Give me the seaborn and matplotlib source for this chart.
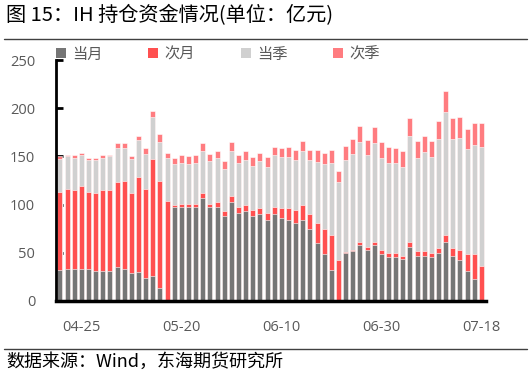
import numpy as np
import pandas as pd
import matplotlib
matplotlib.use("Agg")
import matplotlib.pyplot as plt
from matplotlib.patches import Patch
from matplotlib.lines import Line2D
import seaborn as sns

# ---------------- data ----------------
dates = [
    "04-22", "04-23", "04-24", "04-25", "04-28", "04-29", "04-30",
    "05-06", "05-07", "05-08", "05-09", "05-12", "05-13", "05-14", "05-15", "05-16",
    "05-19", "05-20", "05-21", "05-22", "05-23", "05-26", "05-27", "05-28", "05-29", "05-30",
    "06-03", "06-04", "06-05", "06-06", "06-09", "06-10", "06-11", "06-12", "06-13",
    "06-16", "06-17", "06-18", "06-19", "06-20", "06-23", "06-24", "06-25", "06-26", "06-27",
    "06-30", "07-01", "07-02", "07-03", "07-04", "07-07", "07-08", "07-09", "07-10", "07-11",
    "07-14", "07-15", "07-16", "07-17", "07-18",
]
dangyue = [32, 33, 33, 33, 33, 31.5, 31.5, 31.5, 35, 33, 29, 30, 24, 25.6, 13, 0,
           98, 98, 98, 98, 107, 98, 98, 88.5, 102.7, 91.6, 93, 88.5, 90.5, 84,
           90, 86, 84, 81, 84, 75, 60, 49, 32, 0,
           49.3, 51.7, 57.7, 53.3, 57.7, 49, 45.3, 45.3, 44, 56.4,
           47, 47, 45.3, 49.8, 60.8, 47, 42.5, 31.5, 22.5, 0]
ciyue = [81, 83, 82, 86, 80, 80.5, 83.5, 83.5, 88, 91.5, 83, 99, 92.5, 122, 111.5, 104,
         1.6, 3, 3, 3, 5, 3, 4.7, 4.5, 6.3, 6.4, 6.6, 6.3, 5.5, 7.6,
         8, 10.5, 12.5, 13.4, 15.6, 15, 20.6, 25.7, 36.5, 42.5,
         1.2, 1.3, 3.3, 2.9, 3.5, 4, 4.5, 4.5, 2.7, 4.4,
         4.5, 4.5, 4.5, 4.8, 7.7, 7.6, 10.5, 17.3, 26.3, 36.3]
dangji = [34, 34, 33, 32, 33, 34, 33, 35, 36, 34.5, 35, 38, 36.5, 43.6, 40.5, 44,
          42.4, 42.5, 41, 42.5, 44, 44, 45.3, 44, 47, 45.5, 47, 45.6, 49, 47.1,
          53, 52.5, 52.5, 51.9, 56, 56.3, 63.9, 67.1, 74.5, 80.5,
          96, 99.6, 104, 95.1, 102.3, 95, 93.4, 93.4, 92, 110.4,
          96.5, 102.7, 99.6, 113.4, 127.5, 113.4, 116.4, 108.5, 112.7, 123.7]
ciji = [3, 1.5, 3, 3, 2.5, 2.5, 3, 1.5, 5, 5, 3, 4.5, 6, 6.4, 8, 6,
        6, 7.5, 8, 7.5, 7.6, 8, 7.6, 8, 9, 7.5, 9, 9.3, 9, 10.8,
        9, 9.4, 11, 10.3, 10.4, 10.3, 12.1, 12.1, 13.6, 12,
        13.8, 15.2, 16.7, 15.2, 16.5, 17, 16.8, 15.2, 16.9, 18.3,
        18.3, 16.6, 16.9, 18.4, 21.5, 21.5, 21.6, 21.5, 23.1, 24.6]
series_names = ["当月", "次月", "当季", "次季"]
tick_labels = ["04-25", "05-20", "06-10", "06-30", "07-18"]

colors = ["#767676", "#FF5050", "#D0D0D0", "#FF7C80"]

df = pd.DataFrame({"date": dates, "当月": dangyue, "次月": ciyue,
                   "当季": dangji, "次季": ciji})
cum = df[series_names].cumsum(axis=1)

# ---------------- figure ----------------
sns.set_theme(style="white")
plt.rcParams["font.family"] = ["Open Sans", "Noto Sans CJK SC", "DejaVu Sans"]

fig = plt.figure(figsize=(5.32, 3.79), dpi=100)
ax = fig.add_axes([56 / 532, 1 - 301 / 379, (486 - 56) / 532, 241 / 379])

for name, col in reversed(list(zip(series_names, colors))):
    sns.barplot(x=df["date"], y=cum[name], color=col, saturation=1,
                width=0.7, errorbar=None, edgecolor="white", linewidth=0.4,
                ax=ax, order=dates)

ax.set_ylim(0, 250)
ax.set_xlim(-0.56, 59.65)
ax.set_yticks(np.arange(0, 251, 50))
tick_idx = [dates.index(t) for t in tick_labels]
ax.set_xticks(tick_idx)
ax.set_xticklabels(tick_labels)
ax.set_xlabel("")
ax.set_ylabel("")

for s in ["top", "right"]:
    ax.spines[s].set_visible(False)
ax.spines["left"].set_color("black")
ax.spines["left"].set_linewidth(2.0)
ax.spines["bottom"].set_color("black")
ax.spines["bottom"].set_linewidth(2.5)

ax.tick_params(axis="y", direction="in", length=5, width=2, color="black",
               labelsize=10.5, labelcolor="#595959", pad=15, left=True)
ax.tick_params(axis="x", length=0, labelsize=10.5, labelcolor="#595959", pad=14)

# legend
handles = [Patch(facecolor=c, edgecolor="none") for c in colors]
fig.legend(handles, series_names, loc="center left",
           bbox_to_anchor=(56 / 532, 1 - 54 / 379), ncol=4, frameon=False,
           prop={"family": ["Noto Sans CJK SC", "DejaVu Sans"], "size": 11},
           labelcolor="#595959", handlelength=0.65, handleheight=0.65,
           handletextpad=0.4, columnspacing=3.0, borderpad=0, borderaxespad=0)

# title and source
fig.text(6 / 532, 1 - 16 / 379, "图 15：IH 持仓资金情况(单位：亿元)",
         fontsize=14.5, color="black", va="center", ha="left",
         family=["Noto Sans CJK SC", "DejaVu Sans"])
fig.add_artist(Line2D([4 / 532, 527 / 532], [1 - 39 / 379] * 2,
                      color="#404040", lw=1.0))
fig.add_artist(Line2D([4 / 532, 527 / 532], [1 - 349 / 379] * 2,
                      color="#404040", lw=1.0))
fig.text(6 / 532, 1 - 362 / 379, "数据来源：Wind，东海期货研究所",
         fontsize=13, color="black", va="center", ha="left",
         family=["Noto Sans CJK SC", "DejaVu Sans"])

fig.savefig("out.png", dpi=100)
